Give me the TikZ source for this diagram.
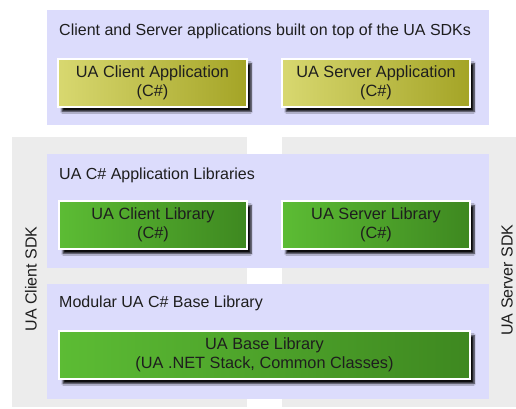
\documentclass[tikz,border=0pt]{standalone}
\usepackage{fontspec}
\setmainfont{Liberation Sans}
\usetikzlibrary{shadows.blur}

\definecolor{lavender}{RGB}{220,220,252}
\definecolor{sdkgrey}{RGB}{236,236,236}
\definecolor{appleft}{RGB}{216,216,112}
\definecolor{appright}{RGB}{164,164,38}
\definecolor{libleft}{RGB}{92,188,52}
\definecolor{libright}{RGB}{62,136,32}
\definecolor{txt}{RGB}{30,30,30}

\tikzset{
  panel/.style={fill=lavender, draw=none, inner sep=0pt, anchor=north west},
  sdkpanel/.style={fill=sdkgrey, draw=none, inner sep=0pt, anchor=north west},
  caption/.style={anchor=west, inner sep=0pt, text=txt, font=\fontsize{16}{19}\selectfont},
  sdklabel/.style={rotate=90, inner sep=0pt, text=txt, font=\fontsize{16}{19}\selectfont},
  module/.style={draw=white, line width=1.5pt, inner sep=0pt, align=center, text=txt,
    font=\fontsize{16.3}{19.5}\selectfont,
    blur shadow={shadow xshift=4pt, shadow yshift=-4.5pt, shadow blur radius=1.8pt,
      shadow blur steps=6, shadow opacity=95, shadow blur extra rounding=0pt}},
  appbox/.style={module, left color=appleft, right color=appright},
  libbox/.style={module, left color=libleft, right color=libright},
}

\begin{document}
\begin{tikzpicture}[x=1pt, y=-1pt]
  \useasboundingbox (0,0) rectangle (516,409);

  % SDK side panels
  \node[sdkpanel, minimum width=235pt, minimum height=270pt] (clientsdk) at (12,137) {};
  \node[sdkpanel, minimum width=234pt, minimum height=270pt] (serversdk) at (282,137) {};
  \node[sdklabel] (clientsdklabel) at (31,279) {UA Client SDK};
  \node[sdklabel] (serversdklabel) at (507,280) {UA Server SDK};

  % Layer panels
  \node[panel, minimum width=442pt, minimum height=115pt] (applayer) at (47,10) {};
  \node[panel, minimum width=442pt, minimum height=114pt] (liblayer) at (47,154) {};
  \node[panel, minimum width=442pt, minimum height=115pt] (baselayer) at (47,284) {};

  \node[caption] (apptitle) at (59,31) {Client and Server applications built on top of the UA SDKs};
  \node[caption] (libtitle) at (59,175) {UA C\# Application Libraries};
  \node[caption] (basetitle) at (59,303) {Modular UA C\# Base Library};

  % Applications
  \node[appbox, minimum width=189pt, minimum height=48pt] (clientapp) at (152.5,83)
    {UA Client Application\\(C\#)};
  \node[appbox, minimum width=188pt, minimum height=48pt] (serverapp) at (376,83)
    {UA Server Application\\(C\#)};

  % Libraries
  \node[libbox, minimum width=188pt, minimum height=48pt] (clientlib) at (153,225)
    {UA Client Library\\(C\#)};
  \node[libbox, minimum width=188pt, minimum height=48pt] (serverlib) at (376,225)
    {UA Server Library\\(C\#)};

  % Base library
  \node[libbox, minimum width=411pt, minimum height=48pt] (baselib) at (264.5,355)
    {UA Base Library\\(UA .NET Stack, Common Classes)};
\end{tikzpicture}
\end{document}
